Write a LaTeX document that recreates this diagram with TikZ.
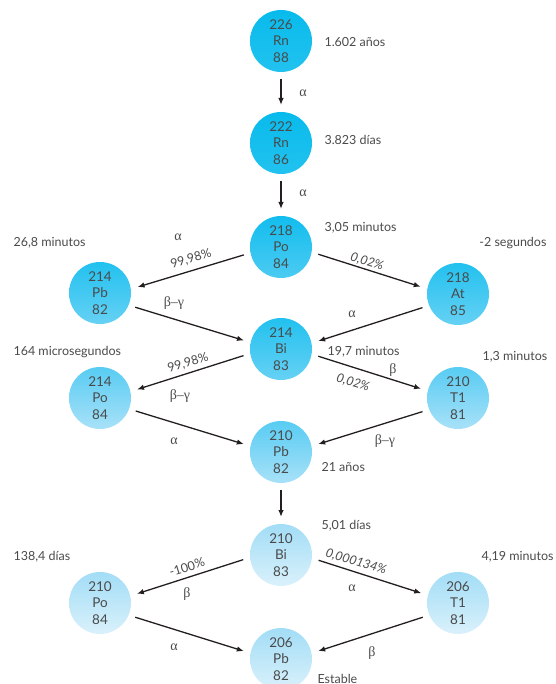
\documentclass[tikz,border=0pt]{standalone}
\usepackage{fontspec}
\setmainfont{Lato}
\newfontfamily\grk{Liberation Serif}
\usetikzlibrary{arrows.meta}
\definecolor{ink}{HTML}{4A4A4A}
\definecolor{arrowc}{HTML}{231F20}
\definecolor{s0t}{HTML}{08BBEC}\definecolor{s0b}{HTML}{22C2EF}
\definecolor{s1t}{HTML}{12BDEE}\definecolor{s1b}{HTML}{4CCBF2}
\definecolor{s2t}{HTML}{22C1EF}\definecolor{s2b}{HTML}{66D1F4}
\definecolor{s3t}{HTML}{58CCF3}\definecolor{s3b}{HTML}{A8E1F8}
\definecolor{s4t}{HTML}{A2DDF6}\definecolor{s4b}{HTML}{DAF1FB}
\begin{document}
\begin{tikzpicture}[x=1pt,y=-1pt,
  every node/.style={font=\fontsize{12.5}{15}\selectfont,text=ink},
  nuc/.style={circle,minimum size=62pt,inner sep=0pt,outer sep=7pt,align=center,
    font=\fontsize{13.5}{16.5}\selectfont},
  arr/.style={draw=arrowc,line width=1.3pt,-{Latex[length=7pt,width=5.5pt]}},
  mode/.style={inner sep=1pt,font=\fontsize{14}{16}\grk},
  pct/.style={inner sep=0pt},
  ipct/.style={inner sep=0pt,font=\fontsize{12.5}{15}\selectfont\itshape}]
  \clip (0,0) rectangle (555,684);
  % nuclides: name/x/y/mass/symbol/Z/shade
  \foreach \nm/\x/\y/\m/\el/\z/\c in {rn226/281/41/226/Rn/88/s0, rn222/281/143/222/Rn/86/s0,
      po218/281/247/218/Po/84/s1, pb214/100/293/214/Pb/82/s2, at218/458/294/218/At/85/s2,
      bi214/281/349/214/Bi/83/s2, po214/100/398/214/Po/84/s3, tl210/458/398/210/T1/81/s3,
      pb210/281/452/210/Pb/82/s3, bi210/281/555/210/Bi/83/s4, po210/100/603/210/Po/84/s4,
      tl206/458/603/206/T1/81/s4, pb206/281/659/206/Pb/82/s4} {
    \node[nuc,top color=\c t,bottom color=\c b] (\nm) at (\x,\y) {\m\\\el\\\z};
  }
  % decays
  \draw[arr] (rn226.south) -- (rn222.north);
  \draw[arr] (rn222.south) -- (po218.north);
  \draw[arr] (pb210.south) -- (bi210.north);
  \foreach \a/\b in {po218.192/pb214.9, po218.349/at218.169, pb214.338/bi214.167,
      at218.201/bi214.12, bi214.190/po214.13, bi214.349/tl210.166, po214.340/pb210.168,
      tl210.201/pb210.12, bi210.187/po210.14, bi210.352/tl206.165, po210.338/pb206.168,
      tl206.202/pb206.12}
    \draw[arr] (\a) -- (\b);
  % decay modes
  \foreach \x/\y/\t [count=\i] in {303/93/α, 303/193/α, 178/237/α, 174/303/β–γ,
      352/314/α, 180/396/β–γ, 393/370/β, 174/441/α, 385/441/β–γ, 187/594/β,
      352/588/α, 174/647/α, 372/653/β}
    \node[mode] (m\i) at (\x,\y) {\t};
  % branching ratios
  \node[pct,rotate=17] (r1) at (191,259) {99,98\%};
  \node[ipct,rotate=-17] (r2) at (367,262) {0,02\%};
  \node[pct,rotate=17] (r3) at (188,363) {99,98\%};
  \node[ipct,rotate=-17] (r4) at (353,383) {0,02\%};
  \node[pct,rotate=17] (r5) at (187,567) {-100\%};
  \node[ipct,rotate=-17] (r6) at (356,562) {0,000134\%};
  % half-lives
  \node[anchor=west] (h1) at (321,42) {1.602 años};
  \node[anchor=west] (h2) at (321,140) {3.823 días};
  \node[anchor=west] (h3) at (321,228) {3,05 minutos};
  \node[anchor=west] (h4) at (10,243) {26,8 minutos};
  \node[anchor=east] (h5) at (550,243) {-2 segundos};
  \node[anchor=west] (h6) at (10,352) {164 microsegundos};
  \node[anchor=west] (h7) at (324,352) {19,7 minutos};
  \node[anchor=west] (h8) at (479,357) {1,3 minutos};
  \node[anchor=west] (h9) at (318,467) {21 años};
  \node[anchor=west] (h10) at (318,526) {5,01 días};
  \node[anchor=west] (h11) at (10,557) {138,4 días};
  \node[anchor=west] (h12) at (478,557) {4,19 minutos};
  \node[anchor=west] (h13) at (314,679) {Estable};
\end{tikzpicture}
\end{document}
